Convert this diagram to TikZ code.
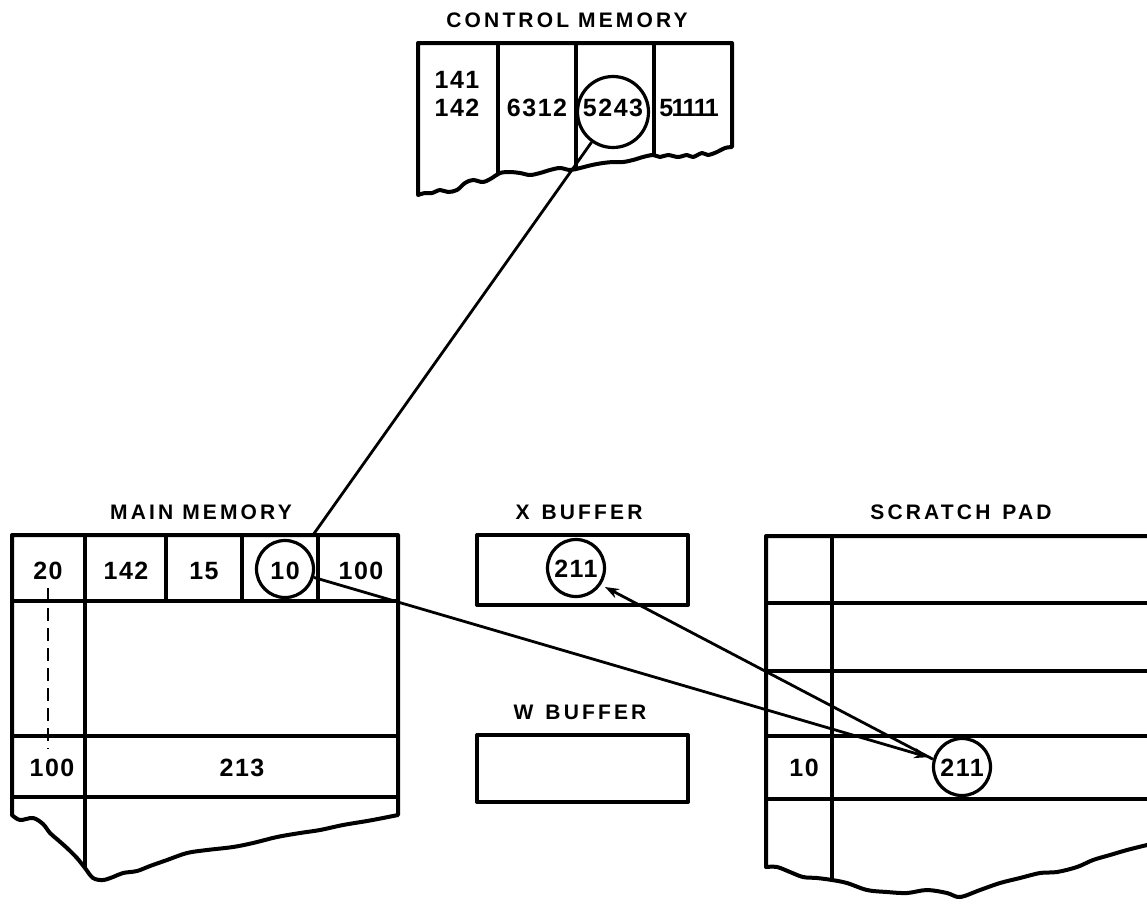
\documentclass[tikz,border=0pt]{standalone}
\usepackage{fontspec}
\setmainfont{Liberation Sans}
\newfontfamily\ttlfont{Liberation Sans Bold}[LetterSpace=15]
\newfontfamily\numfont{Liberation Sans Bold}[LetterSpace=6]
\usetikzlibrary{arrows.meta}
\begin{document}
\begin{tikzpicture}[x=1pt,y=-1pt,
  outline/.style={line width=4pt, line join=round},
  rule/.style={line width=3.2pt},
  ttl/.style={font=\ttlfont\fontsize{21}{21}\selectfont, inner sep=0pt},
  num/.style={font=\numfont\fontsize{25}{25}\selectfont, inner sep=0pt},
  ring/.style={circle, draw, line width=3.2pt, inner sep=0pt},
  link/.style={line width=2.8pt},
  tip/.style={-{Stealth[length=14pt,width=10pt]}}]
\useasboundingbox (0,0) rectangle (1147,903);
\clip (0,0) rectangle (1147,903);

% ---------------- CONTROL MEMORY ----------------
\node[ttl] (tcm) at (567,20) {CONTROL MEMORY};
\def\cmpath{(418,43) -- (732,43) -- (732,147) -- plot[smooth, tension=0.55] coordinates {(732,147) (725,148) (717,152) (708,155) (702,153) (693,157) (687,155) (678,157) (668,155) (660,157) (653,155) (643,157) (633,160) (623,162) (613,162) (603,163) (592,165) (580,168) (570,170) (560,168) (550,170) (540,173) (530,175) (520,173) (510,172) (500,173) (492,178) (483,182) (473,180) (465,183) (457,190) (448,192) (440,190) (432,193) (425,193) (418,195)} -- cycle}
\begin{scope}
  \clip \cmpath;
  \draw[rule] (498,30) -- (498,220) (576,30) -- (576,220) (654,30) -- (654,220);
\end{scope}
\draw[outline] \cmpath;
\node[num] (n141) at (457,80) {141};
\node[num] (n142) at (457,108) {142};
\node[num] (n6312) at (537,108) {6312};
\node[num] (n5243) at (613,108) {5243};
\node[num] (n51111) at (689,108) {\addfontfeature{LetterSpace=-6}51111};
\node[ring, minimum size=71pt] (c5243) at (613,112) {};

% ---------------- MAIN MEMORY ----------------
\node[ttl] (tmm) at (201,512) {MAIN MEMORY};
\def\mmpath{(12,535) -- (398,535) -- (398,815) -- plot[smooth, tension=0.55] coordinates {(398,815) (383,818) (367,821) (343,825) (320,830) (300,833) (277,837) (253,843) (233,847) (207,850) (187,853) (167,860) (150,866) (137,871) (123,873) (113,877) (103,880) (93,878) (85,868) (77,858) (67,848) (58,840) (50,833) (43,824) (33,818) (20,820) (12,815)} -- cycle}
\begin{scope}
  \clip \mmpath;
  \draw[rule] (0,601) -- (410,601) (0,736) -- (410,736) (0,797) -- (410,797);
  \draw[rule] (85,520) -- (85,900);
  \draw[rule] (166,535) -- (166,601) (242,535) -- (242,601) (318,535) -- (318,601);
\end{scope}
\draw[outline] \mmpath;
\node[num] (m20) at (48,571) {20};
\node[num] (m142) at (126,571) {142};
\node[num] (m15) at (204,571) {15};
\node[num] (m10) at (285,571) {10};
\node[num] (m100) at (361,571) {100};
\node[num] (m100b) at (52,768) {100};
\node[num] (m213) at (242,768) {213};
\node[ring, minimum size=57pt] (c10) at (285,569) {};
\coordinate (dtop) at (48,588);
\coordinate (dbot) at (48,749);
\draw[line width=2.6pt, dash pattern=on 13pt off 7pt] (dtop) -- (dbot);

% ---------------- X BUFFER ----------------
\node[ttl] (txb) at (579,512) {X\hspace{12pt}BUFFER};
\node[draw, outline, minimum width=211pt, minimum height=70pt, inner sep=0pt] (xb) at (582.5,570) {};
\node[num] (x211) at (576,569) {211};
\node[ring, minimum size=57pt] (c211x) at (576,568) {};

% ---------------- W BUFFER ----------------
\node[ttl] (twb) at (580,712) {W\hspace{12pt}BUFFER};
\node[draw, outline, minimum width=211pt, minimum height=67pt, inner sep=0pt] (wb) at (582.5,768.5) {};

% ---------------- SCRATCH PAD ----------------
\node[ttl] (tsp) at (961,512) {SCRATCH\hspace{12pt}PAD};
\def\sppath{(766,536) -- (1175,536) -- (1175,838) -- plot[smooth, tension=0.55] coordinates {(1175,838) (1160,842) (1147,845) (1127,850) (1110,855) (1093,860) (1077,867) (1057,872) (1040,873) (1020,878) (1000,883) (980,890) (960,897) (947,893) (927,890) (907,893) (887,892) (867,890) (847,883) (832,880) (817,878) (803,877) (790,872) (777,867) (766,867)} -- cycle}
\begin{scope}
  \clip \sppath;
  \draw[rule] (750,603) -- (1180,603) (750,671) -- (1180,671) (750,736) -- (1180,736) (750,799) -- (1180,799);
  \draw[rule] (832,520) -- (832,900);
\end{scope}
\draw[outline] \sppath;
\node[num] (s10) at (804,768) {10};
\node[num] (s211) at (962,768) {211};
\node[ring, minimum size=57pt] (c211s) at (962,767) {};

% ---------------- CONNECTORS ----------------
\coordinate (mmhit) at (313,535);
\draw[link] (c5243) -- (mmhit);
\draw[link, tip, shorten >=5pt] (c10) -- (c211s);
\coordinate (xhit) at (605,587);
\draw[link, tip] (c211s.165) -- (xhit);
\end{tikzpicture}
\end{document}
